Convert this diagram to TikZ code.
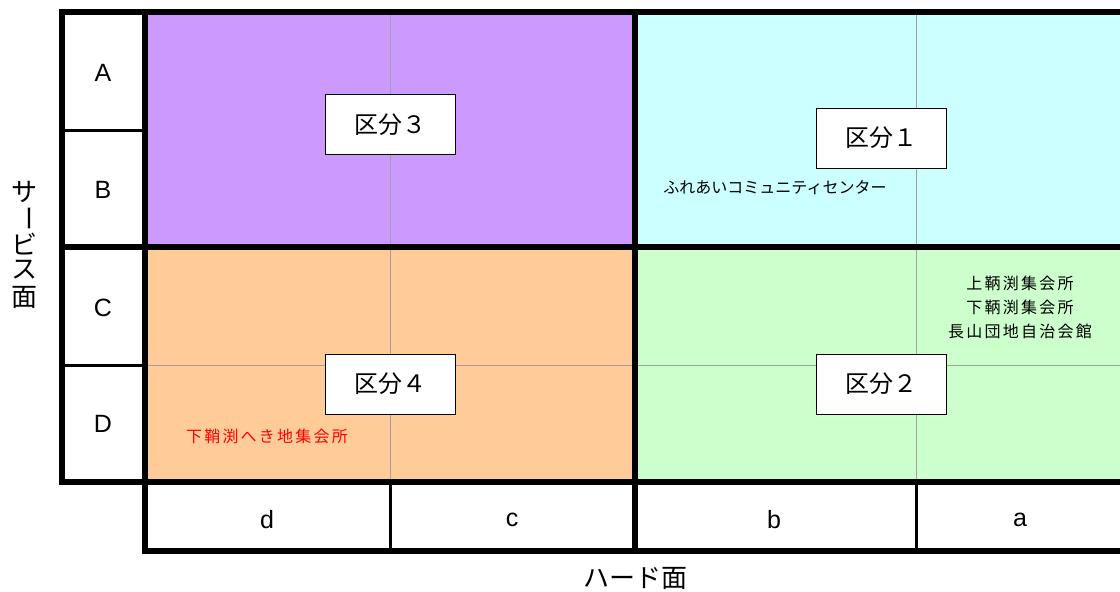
\documentclass[tikz,border=0pt]{standalone}
\usepackage{fontspec}
\setmainfont{Liberation Sans}
\newfontfamily\jp{Noto Sans CJK JP}
\newfontfamily\jpsp[LetterSpace=14]{Noto Sans CJK JP}
\definecolor{cpurple}{HTML}{CC99FF}
\definecolor{ccyan}{HTML}{CCFFFF}
\definecolor{corange}{HTML}{FFCC99}
\definecolor{cgreen}{HTML}{CCFFCC}
\definecolor{cgrid}{HTML}{A0A0A0}
\tikzset{
  thickline/.style={line width=6pt, line cap=rect},
  thinline/.style={line width=3pt},
  gridline/.style={draw=cgrid, line width=1pt},
  kubun/.style={draw=black, line width=1pt, fill=white, minimum width=130pt, minimum height=60pt, inner sep=0pt, font=\jp\fontsize{24}{28}\selectfont},
  axlab/.style={font=\fontsize{25}{28}\selectfont, inner sep=0pt},
  small/.style={font=\jp\fontsize{16}{20}\selectfont, inner sep=0pt},
  smallsp/.style={font=\jpsp\fontsize{16}{24}\selectfont, inner sep=0pt, align=center},
  big/.style={font=\jp\fontsize{26}{28}\selectfont, inner sep=0pt},
}
\begin{document}
\begin{tikzpicture}[x=1pt,y=-1pt]
\useasboundingbox (0,0) rectangle (1120,592);
\clip (0,0) rectangle (1120,592);
% fills
\fill[cpurple] (145,12) rectangle (635,247);
\fill[ccyan] (635,12) rectangle (1130,247);
\fill[corange] (145,247) rectangle (635,482);
\fill[cgreen] (635,247) rectangle (1130,482);
% gray grid lines
\draw[gridline] (390,12) -- (390,482);
\draw[gridline] (916,12) -- (916,482);
\draw[gridline] (145,365) -- (1130,365);
% label column separators
\draw[thinline] (62,130) -- (145,130);
\draw[thinline] (62,365) -- (145,365);
% bottom axis separators
\draw[thinline] (390,482) -- (390,551);
\draw[thinline] (916,482) -- (916,551);
% thick frame
\draw[thickline] (1130,12) -- (62,12) -- (62,482) -- (1130,482);
\draw[thickline] (62,247) -- (1130,247);
\draw[thickline] (145,12) -- (145,551) -- (1130,551);
\draw[thickline] (635,12) -- (635,551);
% row labels
\node[axlab] (rA) at (103,73) {A};
\node[axlab] (rB) at (103,190) {B};
\node[axlab] (rC) at (103,308) {C};
\node[axlab] (rD) at (103,424) {D};
% column labels
\node[axlab] (cd) at (267,520) {d};
\node[axlab] (cc) at (512,520) {c};
\node[axlab] (cb) at (774,520) {b};
\node[axlab] (ca) at (1020,520) {a};
% kubun boxes
\node[kubun] (k3) at (390,124.5) {区分３};
\node[kubun] (k1) at (881.5,138) {区分１};
\node[kubun] (k4) at (390,384) {区分４};
\node[kubun] (k2) at (881.5,384) {区分２};
% facility texts
\node[small] (fureai) at (775,188) {ふれあいコミュニティセンター};
\node[smallsp] (kami) at (1020,307) {上鞆渕集会所\\下鞆渕集会所\\長山団地自治会館};
\node[smallsp, text=red] (heki) at (267,436) {下鞘渕へき地集会所};
% axis titles
\node[big] (v1) at (25,192) {サ};
\node[big, rotate=-90] (v2) at (25,218) {ー};
\node[big] (v3) at (25,244) {ビ};
\node[big] (v4) at (25,270) {ス};
\node[big] (v5) at (25,297) {面};
\node[big] (hard) at (635,578) {ハード面};
\end{tikzpicture}
\end{document}
